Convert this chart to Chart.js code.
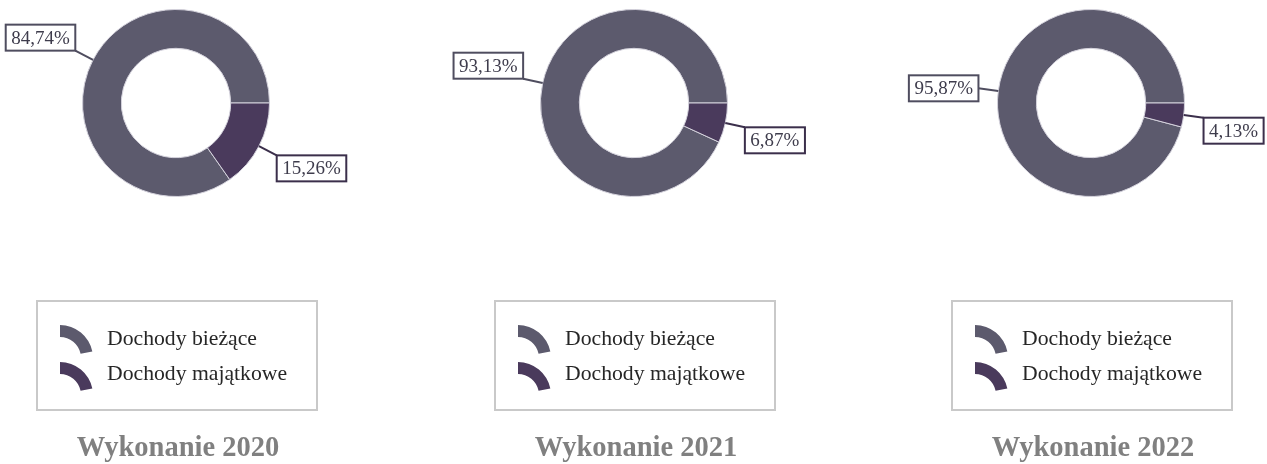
<!DOCTYPE html>
<html><head><meta charset="utf-8">
<script src="https://cdn.jsdelivr.net/npm/chart.js@4.4.0/dist/chart.umd.min.js"></script>
<style>
html,body{margin:0;padding:0;background:#fff;width:1267px;height:464px;overflow:hidden;position:relative}
.c{position:absolute;top:0;width:420px;height:464px}
</style></head><body>
<div class="c" style="left:-34px"><canvas id="c0"></canvas></div>
<div class="c" style="left:424px"><canvas id="c1"></canvas></div>
<div class="c" style="left:881px"><canvas id="c2"></canvas></div>
<script>
// ---- data ----
const categories = ['Dochody bieżące', 'Dochody majątkowe'];
const titles = ['Wykonanie 2020', 'Wykonanie 2021', 'Wykonanie 2022'];
const biezace = [84.74, 93.13, 95.87];
const majatkowe = [15.26, 6.87, 4.13];

// ---- styles ----
const sliceColors = ['#5c5a6d', '#4a3a5c'];
const boxColors = ['#4f4d5f', '#3b2f4b'];
const labelAlign = [['above', 'below'], ['above', 'below'], ['middle', 'below']];
const SERIF = '"Liberation Serif", "Times New Roman", serif';

function fmt(v) { return v.toFixed(2).replace('.', ',') + '%'; }

const decorPlugin = {
  id: 'decor',
  afterDatasetsDraw(chart, args, opts) {
    const ctx = chart.ctx;
    const meta = chart.getDatasetMeta(0);
    const ds = chart.data.datasets[0];
    const cx = chart.width / 2;
    ctx.save();
    // value labels with leader lines
    meta.data.forEach((arc, i) => {
      const p = arc.getProps(['x', 'y', 'startAngle', 'endAngle', 'outerRadius'], true);
      const mid = (p.startAngle + p.endAngle) / 2;
      const cs = Math.cos(mid), sn = Math.sin(mid);
      const x1 = p.x + cs * p.outerRadius, y1 = p.y + sn * p.outerRadius;
      const x2 = x1 + cs * 20, y2 = y1 + sn * 20;
      const col = boxColors[i];
      ctx.strokeStyle = col;
      ctx.lineWidth = 2;
      ctx.beginPath(); ctx.moveTo(x1, y1); ctx.lineTo(x2, y2); ctx.stroke();
      const txt = fmt(ds.data[i]);
      ctx.font = '19px ' + SERIF;
      const tw = ctx.measureText(txt).width;
      const bw = tw + 11, bh = 26;
      const bx = cs < 0 ? x2 - bw : x2;
      const al = opts.align[i];
      const by = al === 'above' ? y2 - bh : (al === 'below' ? y2 : y2 - bh / 2);
      ctx.fillStyle = '#fff';
      ctx.fillRect(bx, by, bw, bh);
      ctx.strokeRect(bx, by, bw, bh);
      ctx.fillStyle = '#3e3c4c';
      ctx.textAlign = 'center';
      ctx.textBaseline = 'middle';
      ctx.fillText(txt, bx + bw / 2, by + bh / 2 + 1);
    });
    // legend box
    ctx.strokeStyle = '#c9c9c9';
    ctx.lineWidth = 2;
    ctx.strokeRect(cx - 139, 301, 280, 109);
    chart.data.labels.forEach((lab, i) => {
      const icx = cx - 116, icy = 358 + i * 37;
      ctx.fillStyle = sliceColors[i];
      ctx.beginPath();
      ctx.arc(icx, icy, 33, -Math.PI / 2, -0.2);
      ctx.arc(icx, icy, 21, -0.2, -Math.PI / 2, true);
      ctx.closePath();
      ctx.fill();
      ctx.fillStyle = '#262626';
      ctx.font = '21.7px ' + SERIF;
      ctx.textAlign = 'left';
      ctx.textBaseline = 'alphabetic';
      ctx.fillText(lab, cx - 69, 345 + i * 35);
    });
    // title
    ctx.fillStyle = '#808080';
    ctx.font = 'bold 28.5px ' + SERIF;
    ctx.textAlign = 'center';
    ctx.textBaseline = 'alphabetic';
    ctx.fillText(opts.title, cx + 2, 456);
    ctx.restore();
  }
};

titles.forEach((t, k) => {
  const values = [biezace[k], majatkowe[k]];
  const total = values[0] + values[1];
  new Chart(document.getElementById('c' + k), {
    type: 'doughnut',
    data: {
      labels: categories,
      datasets: [{
        data: values,
        backgroundColor: sliceColors,
        borderColor: '#d4d2dc',
        borderWidth: 1,
        hoverOffset: 0
      }]
    },
    options: {
      responsive: true,
      maintainAspectRatio: false,
      animation: false,
      cutout: '58.5%',
      rotation: 90 + majatkowe[k] / total * 360,
      layout: { padding: { top: 9, bottom: 267, left: 116, right: 116 } },
      plugins: {
        legend: { display: false },
        tooltip: { enabled: false },
        decor: { align: labelAlign[k], title: t }
      }
    },
    plugins: [decorPlugin]
  });
});
</script>
</body></html>
